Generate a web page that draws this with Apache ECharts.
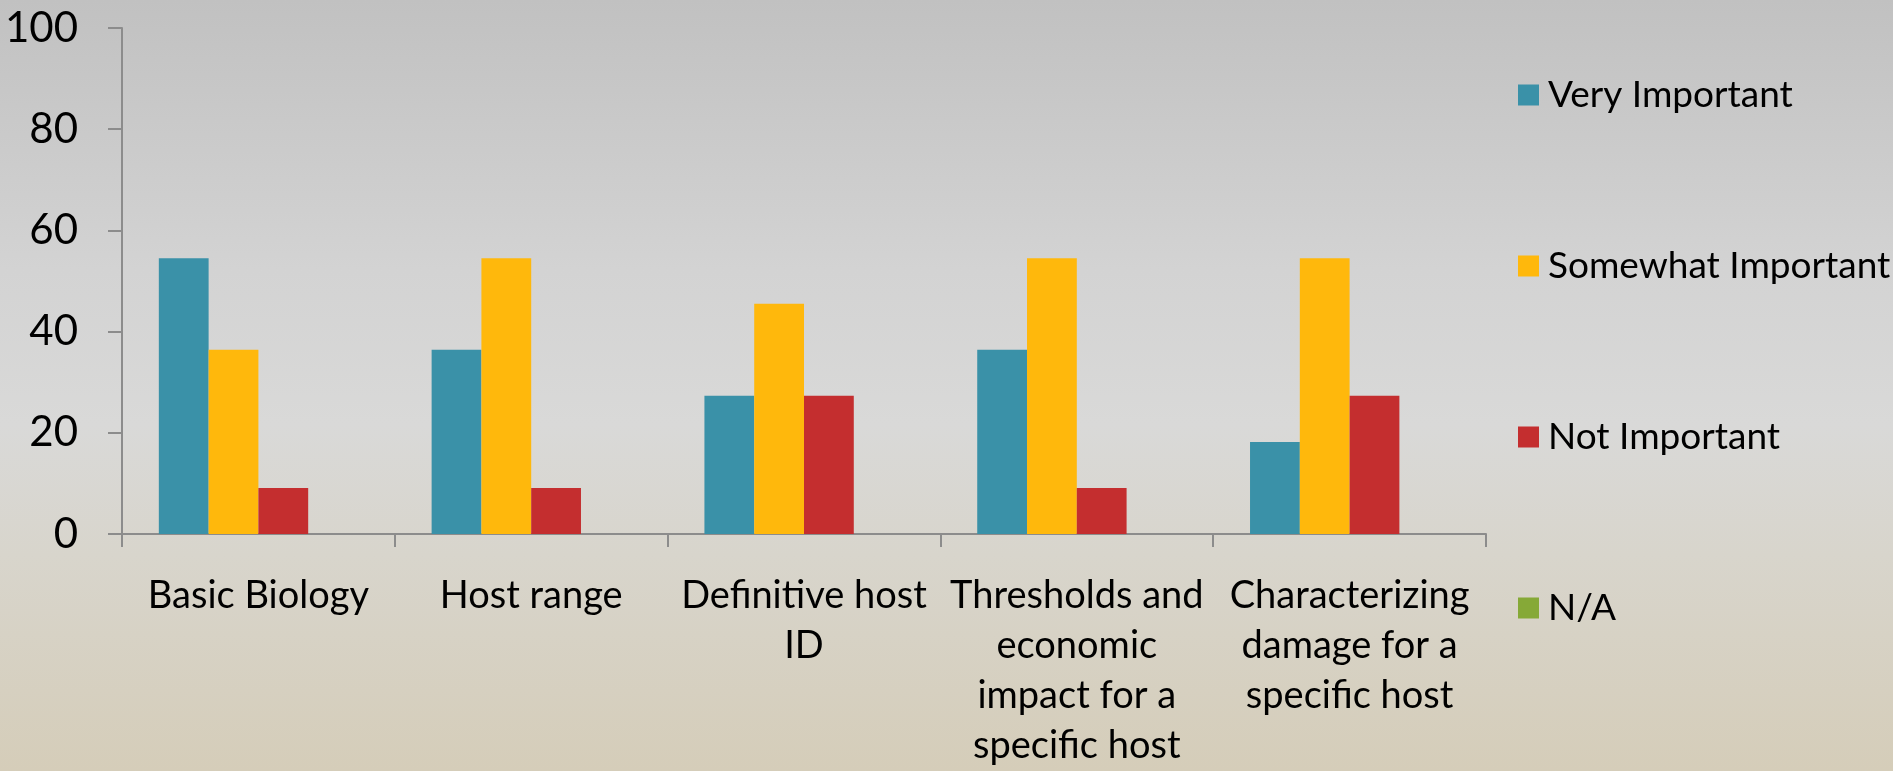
<!DOCTYPE html>
<html>
<head>
<meta charset="utf-8">
<script src="https://cdn.jsdelivr.net/npm/echarts@6/dist/echarts.min.js"></script>
<style>
  html, body { margin: 0; padding: 0; }
  #chart {
    width: 1893px;
    height: 771px;
    background: linear-gradient(to bottom, #c1c1c1 0%, #d3d3d3 35%, #d9d9d8 55%, #d8d5cc 72%, #d5cdb9 100%);
  }
</style>
</head>
<body>
<div id="chart"></div>
<script>
// categories (line breaks as in the slide)
const categories = [
  'Basic Biology',
  'Host range',
  'Definitive host\nID',
  'Thresholds and\neconomic\nimpact for a\nspecific host',
  'Characterizing\ndamage for a\nspecific host'
]
const seriesNames = ['Very Important', 'Somewhat Important', 'Not Important', 'N/A']
const veryImportant = [54.5, 36.4, 27.3, 36.4, 18.2]
const somewhatImportant = [36.4, 54.5, 45.5, 54.5, 54.5]
const notImportant = [9.1, 9.1, 27.3, 9.1, 27.3]
const notApplicable = [0, 0, 0, 0, 0]
const yTicks = [0, 20, 40, 60, 80, 100]

const colors = ['#3a91a8', '#ffb80c', '#c42e2f', '#86a937']
const fontFamily = 'Lato, "Open Sans", sans-serif'

const chart = echarts.init(document.getElementById('chart'))
const values = [veryImportant, somewhatImportant, notImportant, notApplicable]

chart.setOption({
  animation: false,
  color: colors,
  grid: {
    left: 122,
    right: 407,
    top: 28,
    bottom: 233,
    containLabel: false
  },
  legend: {
    orient: 'vertical',
    left: 1513,
    top: 70,
    itemWidth: 21,
    itemHeight: 21,
    itemGap: 131,
    icon: 'rect',
    data: seriesNames,
    textStyle: {
      fontFamily,
      fontSize: 37,
      lineHeight: 40,
      padding: [0, 0, 0, 4],
      color: '#000'
    }
  },
  xAxis: {
    type: 'category',
    data: categories,
    axisLine: { lineStyle: { color: '#8c8c8c', width: 2 } },
    axisTick: { show: true, length: 13, lineStyle: { color: '#8c8c8c', width: 2 } },
    axisLabel: {
      interval: 0,
      margin: 37,
      fontFamily,
      fontSize: 38,
      lineHeight: 50,
      color: '#000',
      align: 'center'
    }
  },
  yAxis: {
    type: 'value',
    min: yTicks[0],
    max: yTicks[yTicks.length - 1],
    interval: 20,
    splitLine: { show: false },
    axisLine: { show: true, lineStyle: { color: '#8c8c8c', width: 2 } },
    axisTick: { show: true, length: 14, lineStyle: { color: '#8c8c8c', width: 2 } },
    axisLabel: {
      margin: 44,
      fontFamily,
      fontSize: 42,
      color: '#000'
    }
  },
  series: seriesNames.map((name, i) => ({
    name,
    type: 'bar',
    data: values[i],
    barGap: '0%',
    barCategoryGap: '27%'
  }))
})
</script>
</body>
</html>
